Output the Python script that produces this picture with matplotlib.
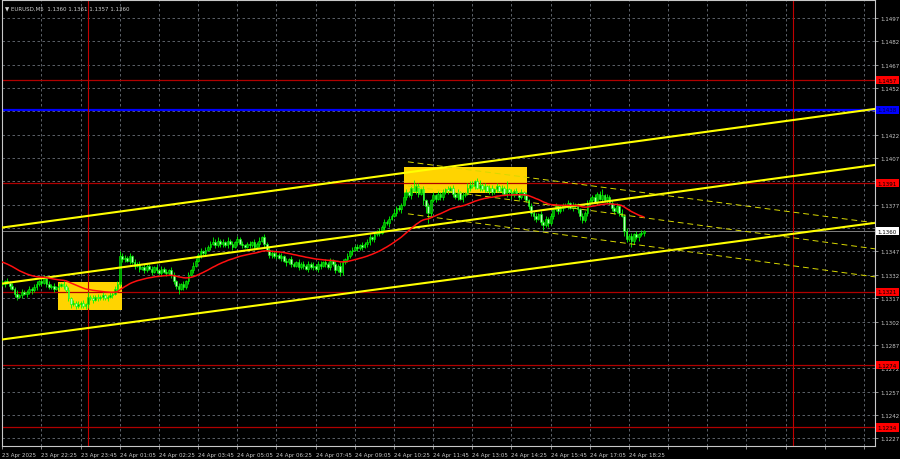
import matplotlib
matplotlib.use("Agg")
import matplotlib.pyplot as plt
import numpy as np
from matplotlib.transforms import blended_transform_factory

# ---------------- data ----------------
symbol_title = "EURUSD,M5  1.1360 1.1361 1.1357 1.1360"
price_base = 1.1300
first_open_pips = 27

close_pips = [
    26, 28, 27, 25, 23, 20, 18, 19, 21, 20,
    21, 23, 22, 24, 26, 28, 27, 30, 26, 24,
    25, 23, 24, 25, 26, 25, 22, 17, 13, 14,
    12, 13, 14, 12, 13, 18, 17, 16, 18, 17,
    18, 19, 17, 18, 19, 20, 23, 26, 44, 42,
    43, 41, 44, 40, 38, 39, 36, 37, 35, 38,
    36, 34, 37, 35, 33, 36, 34, 33, 35, 32,
    28, 25, 23, 26, 24, 28, 32, 35, 38, 41,
    45, 47, 46, 48, 50, 52, 53, 51, 54, 52,
    53, 51, 54, 52, 50, 53, 55, 52, 51, 50,
    52, 51, 53, 50, 52, 54, 56, 52, 48, 45,
    46, 44, 45, 43, 44, 41, 40, 42, 39, 38,
    40, 37, 39, 38, 36, 39, 37, 38, 36, 39,
    38, 40, 39, 37, 41, 39, 35, 38, 34, 40,
    42, 44, 47, 48, 50, 49, 51, 50, 52, 53,
    56, 55, 58, 60, 59, 63, 66, 65, 68, 70,
    72, 75, 74, 77, 82, 85, 83, 88, 86, 89,
    84, 87, 80, 76, 72, 80, 83, 81, 84, 82,
    85, 87, 86, 88, 84, 82, 85, 81, 83, 84,
    88, 90, 89, 92, 88, 90, 87, 89, 86, 88,
    85, 87, 89, 86, 88, 84, 87, 85, 83, 86,
    84, 82, 85, 83, 80, 76, 72, 70, 68, 71,
    66, 64, 68, 65, 70, 74, 76, 73, 75, 77,
    76, 78, 75, 77, 76, 74, 70, 67, 72, 78,
    80, 82, 79, 84, 81, 83, 80, 82, 78, 75,
    73, 76, 72, 70, 60, 55, 57, 54, 58, 56,
    58, 59, 60,
]

wick_up_pips = [
    2, 1, 2, 1, 2, 1, 2, 1, 2, 1,
    1, 2, 1, 2, 2, 1, 2, 2, 1, 2,
    1, 2, 1, 2, 1, 2, 1, 2, 1, 2,
    1, 2, 1, 2, 1, 3, 1, 2, 1, 2,
    1, 2, 1, 1, 2, 1, 2, 2, 3, 2,
    2, 1, 2, 1, 2, 1, 2, 1, 2, 1,
    1, 2, 1, 2, 1, 2, 1, 2, 1, 2,
    2, 1, 2, 1, 2, 1, 2, 1, 2, 2,
    1, 2, 1, 2, 1, 2, 3, 2, 2, 1,
    2, 1, 2, 1, 2, 1, 2, 1, 2, 1,
    1, 2, 1, 2, 1, 2, 1, 2, 1, 2,
    2, 1, 2, 1, 2, 1, 2, 1, 2, 1,
    1, 2, 1, 2, 1, 2, 1, 2, 1, 2,
    2, 1, 2, 1, 2, 1, 2, 1, 2, 2,
    1, 2, 1, 2, 1, 2, 1, 2, 1, 2,
    2, 1, 2, 1, 2, 1, 2, 1, 2, 1,
    2, 1, 2, 1, 3, 2, 1, 2, 5, 2,
    2, 1, 2, 1, 2, 1, 2, 1, 2, 1,
    2, 1, 2, 1, 2, 1, 2, 1, 2, 1,
    3, 2, 2, 1, 2, 3, 1, 2, 1, 2,
    2, 1, 2, 1, 2, 1, 5, 1, 2, 1,
    2, 1, 2, 1, 2, 1, 2, 1, 2, 1,
    2, 1, 2, 1, 2, 1, 2, 1, 2, 1,
    1, 2, 1, 2, 1, 2, 1, 2, 1, 2,
    2, 1, 2, 1, 2, 4, 1, 2, 1, 2,
    1, 2, 1, 2, 1, 2, 1, 2, 1, 2,
    1, 2, 1,
]

wick_dn_pips = [
    1, 2, 1, 2, 1, 2, 2, 1, 2, 1,
    2, 1, 2, 1, 2, 1, 2, 1, 2, 1,
    1, 2, 1, 2, 1, 2, 1, 2, 2, 1,
    2, 1, 2, 1, 2, 2, 1, 2, 1, 2,
    1, 2, 1, 2, 1, 2, 1, 2, 1, 2,
    2, 1, 2, 1, 2, 1, 2, 1, 2, 1,
    1, 2, 1, 2, 1, 2, 1, 2, 1, 2,
    2, 2, 3, 1, 2, 1, 2, 1, 2, 1,
    1, 2, 1, 2, 1, 2, 1, 2, 1, 2,
    2, 1, 2, 1, 2, 1, 2, 1, 2, 1,
    1, 2, 1, 2, 1, 2, 1, 2, 1, 2,
    2, 1, 2, 1, 2, 1, 2, 1, 2, 1,
    1, 2, 1, 2, 1, 2, 1, 2, 1, 2,
    2, 1, 2, 1, 2, 1, 2, 1, 3, 2,
    1, 2, 1, 2, 1, 2, 1, 2, 1, 2,
    2, 1, 2, 1, 2, 1, 2, 1, 2, 1,
    1, 2, 1, 2, 1, 2, 1, 2, 1, 2,
    2, 1, 3, 4, 7, 2, 1, 2, 1, 2,
    2, 1, 2, 1, 2, 1, 2, 1, 2, 1,
    1, 2, 1, 2, 1, 2, 1, 2, 1, 2,
    2, 1, 2, 1, 2, 1, 2, 1, 2, 1,
    1, 2, 1, 2, 1, 2, 2, 3, 2, 1,
    2, 3, 1, 2, 1, 2, 1, 2, 1, 2,
    1, 2, 1, 2, 1, 2, 3, 2, 1, 2,
    1, 2, 1, 2, 1, 2, 1, 2, 1, 2,
    2, 1, 2, 1, 3, 2, 1, 4, 2, 1,
    2, 1, 2,
]

ema_seed = 1.1341
ema_span = 37

time_labels = ["23 Apr 2025", "23 Apr 22:25", "23 Apr 23:45", "24 Apr 01:05",
               "24 Apr 02:25", "24 Apr 03:45", "24 Apr 05:05", "24 Apr 06:25",
               "24 Apr 07:45", "24 Apr 09:05", "24 Apr 10:25", "24 Apr 11:45",
               "24 Apr 13:05", "24 Apr 14:25", "24 Apr 15:45", "24 Apr 17:05",
               "24 Apr 18:25"]
price_ticks = [1.1227, 1.1242, 1.1257, 1.1272, 1.1287, 1.1302, 1.1317, 1.1332,
               1.1347, 1.1362, 1.1377, 1.1392, 1.1407, 1.1422, 1.1437, 1.1452,
               1.1467, 1.1482, 1.1497]
hidden_tick_labels = [1.1362, 1.1392, 1.1437]

red_levels = [1.1457, 1.1391, 1.1321, 1.1274, 1.1234]
blue_level = 1.1438
current_price = 1.1360
day_separators = [35, 323]

channel_lines = [((-0.95, 1.13622), (356.5, 1.14386)),
                 ((-0.95, 1.13262), (356.5, 1.14026)),
                 ((-0.95, 1.12903), (356.5, 1.13654))]
dashed_lines = [((165.7, 1.14046), (356.5, 1.13654)),
                ((165.7, 1.13891), (356.5, 1.13487)),
                ((165.7, 1.13712), (356.5, 1.13307))]
zones = [(22.87, 48.77, 1.13095, 1.13273),
         (164.1, 214.2, 1.13845, 1.14012)]

# ---------------- derived ----------------
closes = price_base + np.array(close_pips) / 10000.0
opens = np.concatenate([[price_base + first_open_pips / 10000.0], closes[:-1]])
highs = np.maximum(opens, closes) + np.array(wick_up_pips) / 10000.0
lows = np.minimum(opens, closes) - np.array(wick_dn_pips) / 10000.0
idx = np.arange(len(closes))

alpha = 2.0 / (ema_span + 1)
ema = np.empty(len(closes))
prev = ema_seed
for i, c in enumerate(closes):
    prev = prev + alpha * (c - prev)
    ema[i] = prev

# ---------------- figure ----------------
FS = 4.0
plt.rcParams['font.family'] = ['DejaVu Sans']
fig = plt.figure(figsize=(9, 4.6), dpi=100, facecolor='black')
ax = fig.add_axes([2 / 900, 13 / 460, 873 / 900, 446 / 460])
ax.set_facecolor('black')
ax.set_xlim(-0.13, 356.5)
ax.set_ylim(1.122205, 1.150856)

xt = np.arange(0, 357, 16)
ax.set_xticks(xt)
ax.set_xticklabels(time_labels + [''] * (len(xt) - len(time_labels)))
ax.set_yticks(price_ticks)
ax.set_yticklabels(['' if p in hidden_tick_labels else f"{p:.4f}" for p in price_ticks])
ax.yaxis.tick_right()
ax.grid(True, color='#6a7078', linestyle=(0, (3, 3)), linewidth=0.6, zorder=0)
ax.set_axisbelow(True)
ax.tick_params(axis='both', colors='#c8c8c8', labelsize=FS, length=2, width=0.5, pad=2)
for lbl in ax.get_xticklabels():
    lbl.set_ha('left')
for s in ax.spines.values():
    s.set_color('#c8c8c8')
    s.set_linewidth(0.8)

# zones
for x0, x1, y0, y1 in zones:
    ax.fill_between([x0, x1], y0, y1, color='#ffd400', linewidth=0, zorder=1)

# horizontal / vertical levels
for lv in red_levels:
    ax.axhline(lv, color='#b00000', linewidth=0.9, zorder=2)
ax.axhline(blue_level, color='#0000ff', linewidth=1.6, zorder=2)
ax.axhline(current_price, color='#808080', linewidth=0.7, zorder=2)
for d in day_separators:
    ax.axvline(d, color='#c00000', linewidth=0.8, zorder=2)

# candles
bull = closes >= opens
ax.vlines(idx, lows, highs, color='#00ff00', linewidth=0.6, zorder=3)
body_h = np.maximum(np.abs(closes - opens), 0.000012)
body_b = np.minimum(opens, closes)
ax.bar(idx[bull], body_h[bull], bottom=body_b[bull], width=0.7,
       color='#00a000', edgecolor='#00ff00', linewidth=0.4, zorder=3)
ax.bar(idx[~bull], body_h[~bull], bottom=body_b[~bull], width=0.7,
       color='#b8ffb8', edgecolor='#00ff00', linewidth=0.4, zorder=3)

# EMA
ax.plot(idx, ema, color='#ff1010', linewidth=1.1, zorder=6)

# channel lines
for (xa, ya), (xb, yb) in channel_lines:
    ax.plot([xa, xb], [ya, yb], color='#ffff00', linewidth=1.5, zorder=5)
for (xa, ya), (xb, yb) in dashed_lines:
    ax.plot([xa, xb], [ya, yb], color='#d8d800', linewidth=0.7,
            linestyle=(0, (6, 4)), zorder=5)

# price labels on the right
tr = blended_transform_factory(ax.transAxes, ax.transData)
def price_box(p, fc, tc):
    ax.text(1.003, p, f"{p:.4f}", transform=tr, ha='left', va='center',
            fontsize=FS, color=tc, clip_on=False, zorder=10,
            bbox=dict(boxstyle='square,pad=0.3', fc=fc, ec='none'))
for lv in red_levels:
    price_box(lv, '#ff0000', '#000000')
price_box(blue_level, '#0000ff', '#000040')
price_box(current_price, '#ffffff', '#000000')

# title
ax.text(0.004, 0.988, '\u25bc ' + symbol_title, transform=ax.transAxes,
        fontsize=FS, color='#d0d0d0', ha='left', va='top', zorder=10)

fig.savefig('out.png', dpi=100, facecolor='black')
